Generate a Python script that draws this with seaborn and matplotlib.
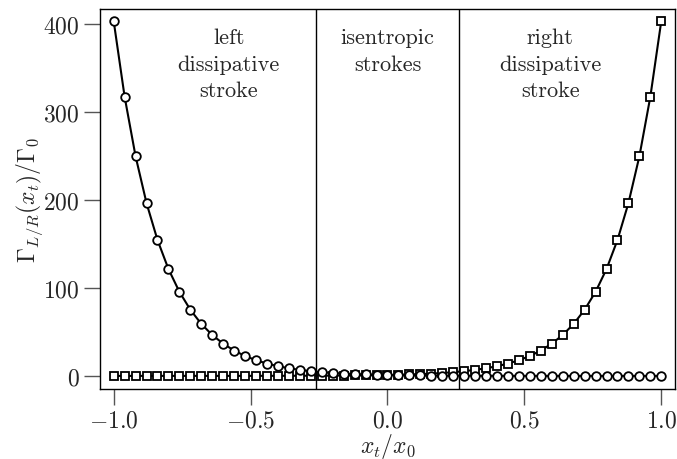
import numpy as np
import pandas as pd
import matplotlib
matplotlib.use("Agg")
import matplotlib.pyplot as plt
import seaborn as sns

# x positions (x_t / x_0)
x_vals = [-1.00, -0.96, -0.92, -0.88, -0.84, -0.80, -0.76, -0.72, -0.68, -0.64,
          -0.60, -0.56, -0.52, -0.48, -0.44, -0.40, -0.36, -0.32, -0.28, -0.24,
          -0.20, -0.16, -0.12, -0.08, -0.04, 0.00, 0.04, 0.08, 0.12, 0.16,
          0.20, 0.24, 0.28, 0.32, 0.36, 0.40, 0.44, 0.48, 0.52, 0.56,
          0.60, 0.64, 0.68, 0.72, 0.76, 0.80, 0.84, 0.88, 0.92, 0.96, 1.00]

# Gamma_L / Gamma_0 (circles)
gamma_left = [403.4, 317.3, 249.6, 196.4, 154.5, 121.5, 95.6, 75.2, 59.1, 46.5,
              36.6, 28.8, 22.6, 17.8, 14.0, 11.0, 8.7, 6.8, 5.4, 4.2,
              3.3, 2.6, 2.05, 1.6, 1.3, 1.0, 0.79, 0.62, 0.49, 0.38,
              0.30, 0.24, 0.19, 0.15, 0.12, 0.09, 0.07, 0.06, 0.04, 0.03,
              0.03, 0.02, 0.02, 0.01, 0.01, 0.01, 0.01, 0.01, 0.0, 0.0, 0.0]

# Gamma_R / Gamma_0 (squares)
gamma_right = [0.0, 0.0, 0.0, 0.01, 0.01, 0.01, 0.01, 0.01, 0.02, 0.02,
               0.03, 0.03, 0.04, 0.06, 0.07, 0.09, 0.12, 0.15, 0.19, 0.24,
               0.30, 0.38, 0.49, 0.62, 0.79, 1.0, 1.3, 1.6, 2.05, 2.6,
               3.3, 4.2, 5.4, 6.8, 8.7, 11.0, 14.0, 17.8, 22.6, 28.8,
               36.6, 46.5, 59.1, 75.2, 95.6, 121.5, 154.5, 196.4, 249.6, 317.3, 403.4]

stroke_bounds = [-0.26, 0.26]
region_labels = ["left\ndissipative\nstroke", "isentropic\nstrokes", "right\ndissipative\nstroke"]
region_x = [-0.58, 0.0, 0.595]
x_ticks = [-1.0, -0.5, 0.0, 0.5, 1.0]
y_ticks = [0, 100, 200, 300, 400]

sns.set_style("ticks")
plt.rcParams["font.family"] = ["serif"]
plt.rcParams["font.serif"] = ["cmr10", "DejaVu Serif"]
plt.rcParams["mathtext.fontset"] = "cm"
plt.rcParams["axes.formatter.use_mathtext"] = True
plt.rcParams["axes.unicode_minus"] = True

df = pd.DataFrame({"x": x_vals, "left": gamma_left, "right": gamma_right})

fig = plt.figure(figsize=(6.77, 4.60), dpi=100)
ax = fig.add_axes([0.1477, 0.152, 0.8493, 0.826])

sns.lineplot(data=df, x="x", y="right", ax=ax, color="black", lw=1.5,
             marker="s", markersize=5.8, markerfacecolor="white",
             markeredgecolor="black", markeredgewidth=1.3)
sns.lineplot(data=df, x="x", y="left", ax=ax, color="black", lw=1.5,
             marker="o", markersize=6.2, markerfacecolor="white",
             markeredgecolor="black", markeredgewidth=1.3)

for b in stroke_bounds:
    ax.axvline(b, color="black", lw=1.0)

for lx, lab in zip(region_x, region_labels):
    ax.text(lx, 396, lab, ha="center", va="top", fontsize=16,
            linespacing=1.45, family="serif")

ax.set_xlim(-1.05, 1.05)
ax.set_ylim(-15, 417)
ax.set_xticks(x_ticks)
ax.set_yticks(y_ticks)
ax.tick_params(direction="out", length=11.5, width=1.0, labelsize=17,
               color="#555555", pad=3)
ax.set_xlabel(r"$x_t/x_0$", fontsize=17, labelpad=0)
ax.set_ylabel(r"$\Gamma_{L/R}(x_t)/\Gamma_0$", fontsize=17, labelpad=-1)
for s in ax.spines.values():
    s.set_linewidth(1.0)
    s.set_color("black")

fig.savefig("out.png", dpi=100)
